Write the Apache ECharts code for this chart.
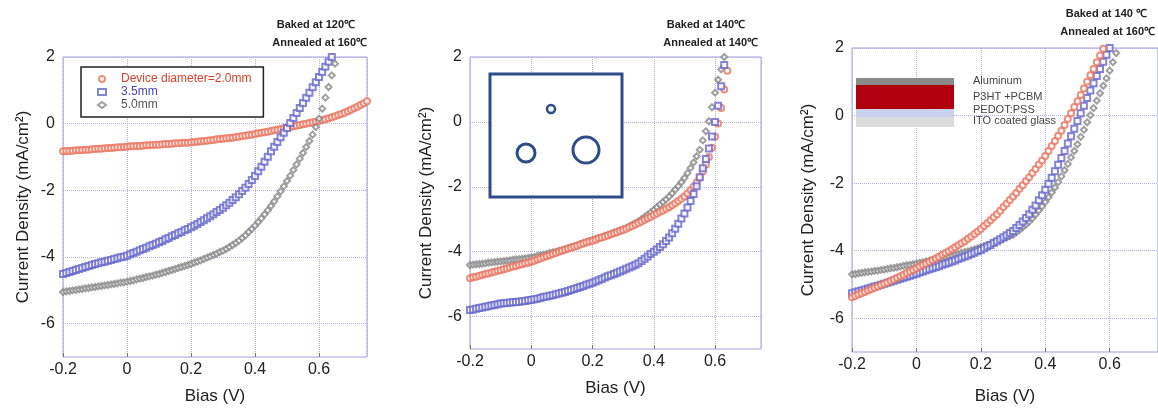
<!DOCTYPE html>
<html lang="en">
<head>
<meta charset="UTF-8">
<title>J-V curves</title>
<script src="https://cdn.jsdelivr.net/npm/echarts@6/dist/echarts.min.js"></script>
<style>body{margin:0;background:#fff}</style>
</head>
<body>
<div id="main" style="width:1158px;height:410px"></div>
<script>
// bias points (V), shared by every curve
var biasV = [-0.20,-0.19,-0.18,-0.17,-0.16,-0.15,-0.14,-0.13,-0.12,-0.11,-0.10,-0.09,-0.08,-0.07,-0.06,-0.05,-0.04,-0.03,-0.02,-0.01,
    0.00,0.01,0.02,0.03,0.04,0.05,0.06,0.07,0.08,0.09,0.10,0.11,0.12,0.13,0.14,0.15,0.16,0.17,0.18,0.19,
    0.20,0.21,0.22,0.23,0.24,0.25,0.26,0.27,0.28,0.29,0.30,0.31,0.32,0.33,0.34,0.35,0.36,0.37,0.38,0.39,
    0.40,0.41,0.42,0.43,0.44,0.45,0.46,0.47,0.48,0.49,0.50,0.51,0.52,0.53,0.54,0.55,0.56,0.57,0.58,0.59,
    0.60,0.61,0.62,0.63,0.64,0.65,0.66,0.67,0.68,0.69,0.70,0.71,0.72,0.73,0.74,0.75];

var xTicks = [-0.2, 0, 0.2, 0.4, 0.6];
var yTicks = [-6, -4, -2, 0, 2];

// panel 1 : baked 120, annealed 160
var p1Red = [-0.83,-0.82,-0.82,-0.81,-0.80,-0.80,-0.79,-0.78,-0.78,-0.77,-0.76,-0.75,-0.75,-0.74,-0.73,-0.73,-0.72,-0.71,-0.71,-0.70,
    -0.69,-0.68,-0.68,-0.67,-0.67,-0.66,-0.65,-0.65,-0.64,-0.63,-0.63,-0.62,-0.61,-0.61,-0.60,-0.59,-0.59,-0.58,-0.57,-0.57,
    -0.56,-0.55,-0.54,-0.53,-0.52,-0.51,-0.50,-0.49,-0.47,-0.46,-0.45,-0.44,-0.43,-0.42,-0.40,-0.39,-0.37,-0.36,-0.34,-0.33,
    -0.31,-0.29,-0.27,-0.26,-0.24,-0.22,-0.20,-0.18,-0.16,-0.14,-0.12,-0.10,-0.08,-0.06,-0.04,-0.02,0.00,0.02,0.04,0.06,
    0.08,0.11,0.13,0.16,0.19,0.22,0.26,0.29,0.33,0.37,0.42,0.46,0.51,0.56,0.61,0.67];
var p1Blue = [-4.51,-4.48,-4.45,-4.42,-4.39,-4.36,-4.33,-4.30,-4.27,-4.24,-4.21,-4.19,-4.16,-4.14,-4.11,-4.09,-4.06,-4.04,-4.01,-3.99,
    -3.96,-3.92,-3.88,-3.84,-3.80,-3.76,-3.72,-3.68,-3.64,-3.60,-3.56,-3.52,-3.47,-3.43,-3.38,-3.34,-3.29,-3.25,-3.20,-3.16,
    -3.11,-3.06,-3.01,-2.95,-2.90,-2.84,-2.78,-2.72,-2.65,-2.59,-2.52,-2.45,-2.37,-2.29,-2.21,-2.12,-2.02,-1.92,-1.81,-1.69,
    -1.57,-1.43,-1.29,-1.14,-0.99,-0.83,-0.69,-0.55,-0.41,-0.27,-0.13,0.02,0.17,0.32,0.47,0.62,0.78,0.93,1.09,1.24,
    1.40,1.55,1.71,1.86,2.00];
var p1Gray = [-5.05,-5.03,-5.02,-5.00,-4.99,-4.97,-4.96,-4.94,-4.93,-4.91,-4.90,-4.88,-4.87,-4.85,-4.84,-4.82,-4.81,-4.79,-4.77,-4.76,
    -4.74,-4.72,-4.70,-4.67,-4.65,-4.63,-4.60,-4.58,-4.56,-4.53,-4.51,-4.48,-4.45,-4.42,-4.39,-4.36,-4.33,-4.30,-4.27,-4.24,
    -4.21,-4.17,-4.14,-4.10,-4.06,-4.02,-3.98,-3.94,-3.90,-3.85,-3.81,-3.76,-3.70,-3.64,-3.58,-3.51,-3.43,-3.35,-3.25,-3.16,
    -3.06,-2.95,-2.84,-2.72,-2.60,-2.47,-2.33,-2.18,-2.03,-1.88,-1.72,-1.56,-1.39,-1.22,-1.05,-0.88,-0.70,-0.52,-0.33,-0.10,
    0.15,0.45,0.78,1.10,1.45,1.80];

// panel 2 : baked 140, annealed 140
var p2Gray = [-4.41,-4.40,-4.39,-4.38,-4.37,-4.36,-4.34,-4.33,-4.32,-4.31,-4.30,-4.29,-4.28,-4.27,-4.25,-4.24,-4.23,-4.22,-4.21,-4.19,
    -4.18,-4.16,-4.13,-4.11,-4.09,-4.07,-4.04,-4.02,-4.00,-3.97,-3.95,-3.92,-3.89,-3.86,-3.83,-3.80,-3.76,-3.73,-3.70,-3.67,
    -3.64,-3.61,-3.58,-3.55,-3.51,-3.48,-3.45,-3.41,-3.38,-3.34,-3.31,-3.27,-3.22,-3.17,-3.12,-3.07,-3.00,-2.93,-2.86,-2.79,
    -2.71,-2.63,-2.55,-2.47,-2.39,-2.30,-2.20,-2.09,-1.98,-1.86,-1.73,-1.58,-1.42,-1.25,-1.06,-0.86,-0.57,-0.29,0.02,0.45,
    0.90,1.30,1.62,2.00];
var p2Red = [-4.82,-4.79,-4.77,-4.74,-4.72,-4.69,-4.67,-4.64,-4.62,-4.59,-4.57,-4.54,-4.52,-4.49,-4.46,-4.44,-4.41,-4.39,-4.36,-4.34,
    -4.31,-4.28,-4.24,-4.21,-4.17,-4.14,-4.11,-4.07,-4.04,-4.00,-3.97,-3.94,-3.91,-3.88,-3.85,-3.82,-3.78,-3.75,-3.72,-3.69,
    -3.66,-3.63,-3.59,-3.56,-3.53,-3.50,-3.46,-3.43,-3.40,-3.36,-3.33,-3.29,-3.25,-3.21,-3.16,-3.12,-3.07,-3.02,-2.97,-2.92,
    -2.87,-2.82,-2.77,-2.73,-2.68,-2.63,-2.57,-2.51,-2.44,-2.37,-2.30,-2.21,-2.11,-2.00,-1.87,-1.72,-1.53,-1.32,-1.08,-0.80,
    -0.46,-0.05,0.43,1.00,1.58];
var p2Blue = [-5.80,-5.78,-5.76,-5.74,-5.72,-5.70,-5.68,-5.66,-5.64,-5.62,-5.60,-5.59,-5.58,-5.57,-5.56,-5.55,-5.54,-5.53,-5.52,-5.50,
    -5.49,-5.47,-5.45,-5.43,-5.40,-5.38,-5.36,-5.34,-5.31,-5.29,-5.27,-5.24,-5.21,-5.18,-5.15,-5.12,-5.09,-5.06,-5.02,-4.99,
    -4.96,-4.92,-4.88,-4.84,-4.80,-4.76,-4.73,-4.69,-4.65,-4.61,-4.57,-4.53,-4.49,-4.45,-4.40,-4.36,-4.29,-4.22,-4.15,-4.07,
    -4.00,-3.93,-3.86,-3.77,-3.67,-3.56,-3.43,-3.29,-3.14,-2.98,-2.82,-2.64,-2.44,-2.22,-1.98,-1.71,-1.43,-1.14,-0.82,-0.45,
    0.00,0.50,1.10,1.75];

// panel 3 : baked 140, annealed 160
var p3Red = [-5.38,-5.34,-5.30,-5.26,-5.22,-5.18,-5.14,-5.10,-5.06,-5.02,-4.98,-4.94,-4.89,-4.85,-4.80,-4.76,-4.71,-4.66,-4.62,-4.57,
    -4.52,-4.47,-4.42,-4.38,-4.33,-4.28,-4.23,-4.18,-4.12,-4.07,-4.02,-3.96,-3.90,-3.84,-3.78,-3.72,-3.65,-3.58,-3.51,-3.43,
    -3.36,-3.27,-3.19,-3.10,-3.01,-2.92,-2.82,-2.71,-2.61,-2.50,-2.40,-2.29,-2.17,-2.06,-1.94,-1.83,-1.70,-1.58,-1.45,-1.33,
    -1.20,-1.05,-0.90,-0.75,-0.60,-0.45,-0.28,-0.10,0.07,0.25,0.42,0.61,0.80,1.00,1.19,1.38,1.58,1.78,1.98];
var p3Blue = [-5.26,-5.23,-5.20,-5.18,-5.15,-5.12,-5.09,-5.06,-5.04,-5.01,-4.98,-4.95,-4.92,-4.89,-4.86,-4.83,-4.80,-4.77,-4.74,-4.71,
    -4.68,-4.65,-4.62,-4.58,-4.55,-4.52,-4.49,-4.46,-4.42,-4.39,-4.36,-4.32,-4.29,-4.25,-4.21,-4.17,-4.14,-4.10,-4.06,-4.02,
    -3.98,-3.93,-3.88,-3.83,-3.77,-3.72,-3.66,-3.60,-3.54,-3.48,-3.42,-3.33,-3.24,-3.14,-3.03,-2.92,-2.79,-2.66,-2.51,-2.36,
    -2.20,-2.02,-1.84,-1.65,-1.46,-1.26,-1.05,-0.83,-0.61,-0.39,-0.16,0.07,0.29,0.52,0.74,0.96,1.17,1.38,1.59,1.80,
    2.00];
var p3Gray = [-4.70,-4.69,-4.67,-4.66,-4.64,-4.63,-4.62,-4.60,-4.59,-4.57,-4.56,-4.54,-4.52,-4.51,-4.49,-4.47,-4.45,-4.43,-4.42,-4.40,
    -4.38,-4.36,-4.34,-4.32,-4.30,-4.28,-4.25,-4.23,-4.21,-4.19,-4.17,-4.15,-4.12,-4.10,-4.07,-4.04,-4.02,-3.99,-3.96,-3.93,
    -3.90,-3.87,-3.83,-3.80,-3.76,-3.73,-3.69,-3.65,-3.61,-3.57,-3.53,-3.46,-3.39,-3.31,-3.23,-3.14,-3.04,-2.93,-2.81,-2.69,
    -2.56,-2.42,-2.28,-2.13,-1.97,-1.80,-1.62,-1.43,-1.24,-1.05,-0.85,-0.63,-0.42,-0.20,0.01,0.22,0.44,0.66,0.88,1.10,
    1.33,1.58,1.85];

var legendNames = ['Device diameter=2.0mm', '3.5mm', '5.0mm'];

var RED = '#e8735e', BLUE = '#6666cc', GRAY = '#888888';
var FRAME = '#a0a0dc', GRIDC = '#aeaee4';
var LABEL_FONT = 'Liberation Sans, Arial, sans-serif';

function pairs(ys) {
    return ys.map(function (y, i) { return [biasV[i], y]; });
}

function makeX(idx, gap) {
    return {
        type: 'value', gridIndex: idx, min: xTicks[0], max: 0.75, interval: 0.2,
        name: 'Bias (V)', nameLocation: 'middle', nameGap: gap,
        nameTextStyle: {fontSize: 17, color: '#222', fontFamily: LABEL_FONT},
        axisLine: {show: false, onZero: false},
        axisTick: {show: true, inside: true, length: 4, lineStyle: {color: '#777'}},
        axisLabel: {fontSize: 16, color: '#222', margin: 5, fontFamily: LABEL_FONT, showMaxLabel: false},
        splitLine: {show: true, lineStyle: {color: GRIDC, type: 'dotted', width: 1}}
    };
}

function makeY(idx, gap) {
    return {
        type: 'value', gridIndex: idx, min: -7, max: yTicks[yTicks.length - 1], interval: 1,
        name: 'Current Density (mA/cm²)', nameLocation: 'middle', nameGap: gap,
        nameTextStyle: {fontSize: 17, color: '#222', fontFamily: LABEL_FONT},
        axisLine: {show: false, onZero: false},
        axisTick: {show: false},
        axisLabel: {
            fontSize: 16, color: '#222', margin: 8, fontFamily: LABEL_FONT,
            formatter: function (v) {
                var r = Math.round(v);
                return yTicks.indexOf(r) >= 0 ? String(r) : '';
            }
        },
        // lines only on the even values
        splitLine: {show: true, lineStyle: {color: ['rgba(0,0,0,0)', GRIDC], type: 'dotted', width: 1}}
    };
}

function pts(name, idx, ys, sym, color, size) {
    return {
        name: name, type: 'scatter', xAxisIndex: idx, yAxisIndex: idx,
        data: pairs(ys), symbol: sym, symbolSize: size,
        itemStyle: {color: color, borderColor: color, borderWidth: 0.9},
        emphasis: {disabled: true}, silent: true
    };
}

function heading(right, y, text) {
    return {
        type: 'text', right: right, top: y, z: 20,
        style: {text: text, font: 'bold 11px "Liberation Sans", Arial, sans-serif', fill: '#222'}
    };
}

var chart = echarts.init(document.getElementById('main'));

var option = {
    animation: false,
    grid: [
        {left: 63, top: 57, width: 304, height: 302, show: true, borderColor: FRAME, borderWidth: 1},
        {left: 470, top: 57, width: 291, height: 292, show: true, borderColor: FRAME, borderWidth: 1},
        {left: 852, top: 48, width: 307, height: 304, show: true, borderColor: FRAME, borderWidth: 1}
    ],
    xAxis: [makeX(0, 31), makeX(1, 31), makeX(2, 36)],
    yAxis: [makeY(0, 31), makeY(1, 35), makeY(2, 35)],
    legend: {
        left: 81, top: 67, orient: 'vertical', itemGap: 1, itemWidth: 8, itemHeight: 6,
        padding: [6, 12, 6, 16], borderColor: '#222', borderWidth: 1.5, backgroundColor: '#fff',
        textStyle: {fontSize: 12, fontFamily: LABEL_FONT, padding: [0, 0, 0, 10]},
        data: [
            {name: legendNames[0], textStyle: {color: '#d8412c'}},
            {name: legendNames[1], textStyle: {color: '#4646b4'}},
            {name: legendNames[2], textStyle: {color: '#555'}}
        ],
        selectedMode: false
    },
    series: [
        pts(legendNames[0], 0, p1Red, 'emptyCircle', RED, 6),
        pts(legendNames[1], 0, p1Blue, 'emptyRect', BLUE, 6),
        pts(legendNames[2], 0, p1Gray, 'emptyDiamond', GRAY, 6),
        pts('p2 5.0mm', 1, p2Gray, 'emptyDiamond', GRAY, 6),
        pts('p2 2.0mm', 1, p2Red, 'emptyCircle', RED, 6),
        pts('p2 3.5mm', 1, p2Blue, 'emptyRect', BLUE, 6),
        pts('p3 5.0mm', 2, p3Gray, 'emptyDiamond', GRAY, 6),
        pts('p3 3.5mm', 2, p3Blue, 'emptyRect', BLUE, 6),
        pts('p3 2.0mm', 2, p3Red, 'emptyCircle', RED, 6)
    ],
    graphic: [
        heading(803, 19, 'Baked at 120℃'),
        heading(791, 37, 'Annealed at 160℃'),
        heading(413, 19, 'Baked at 140℃'),
        heading(400, 37, 'Annealed at 140℃'),
        heading(11, 8, 'Baked at 140 ℃'),
        heading(3, 26, 'Annealed at 160℃'),
        // panel 2 inset: device layout
        {type: 'rect', z: 10, shape: {x: 490, y: 74, width: 132, height: 123},
            style: {fill: '#fff', stroke: '#2e4c88', lineWidth: 3}},
        {type: 'circle', z: 11, shape: {cx: 551, cy: 109, r: 4},
            style: {fill: 'none', stroke: '#2e4c88', lineWidth: 2.5}},
        {type: 'circle', z: 11, shape: {cx: 526, cy: 153, r: 9},
            style: {fill: 'none', stroke: '#2e4c88', lineWidth: 3}},
        {type: 'circle', z: 11, shape: {cx: 586, cy: 150, r: 13},
            style: {fill: 'none', stroke: '#2e4c88', lineWidth: 3}},
        // panel 3 inset: layer stack
        {type: 'rect', z: 10, shape: {x: 856, y: 78, width: 98, height: 7}, style: {fill: '#8a8a8a'}},
        {type: 'rect', z: 10, shape: {x: 856, y: 85, width: 98, height: 24}, style: {fill: '#b0000e'}},
        {type: 'rect', z: 10, shape: {x: 856, y: 109, width: 98, height: 8}, style: {fill: '#c9d1ec'}},
        {type: 'rect', z: 10, shape: {x: 856, y: 117, width: 98, height: 10}, style: {fill: '#dbdbdb'}},
        {type: 'text', z: 10, left: 973, top: 75, style: {text: 'Aluminum', font: '11px "Liberation Sans", Arial', fill: '#444'}},
        {type: 'text', z: 10, left: 973, top: 91, style: {text: 'P3HT +PCBM', font: '11px "Liberation Sans", Arial', fill: '#444'}},
        {type: 'text', z: 10, left: 973, top: 104, style: {text: 'PEDOT:PSS', font: '11px "Liberation Sans", Arial', fill: '#444'}},
        {type: 'text', z: 10, left: 973, top: 115, style: {text: 'ITO coated glass', font: '11px "Liberation Sans", Arial', fill: '#444'}}
    ]
};

chart.setOption(option);
</script>
</body>
</html>
